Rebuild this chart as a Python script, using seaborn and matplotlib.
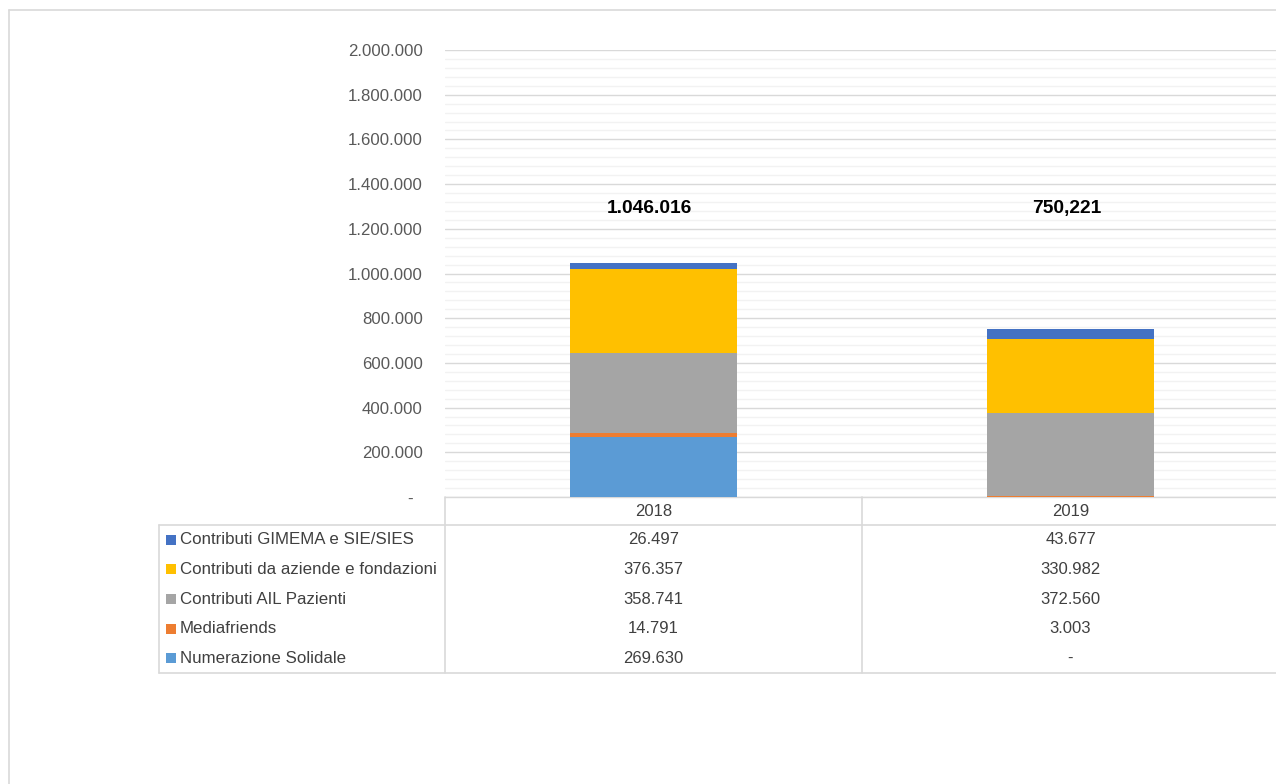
import matplotlib
matplotlib.use("Agg")
import matplotlib.pyplot as plt
import matplotlib.transforms as mtransforms
import numpy as np
import pandas as pd
import seaborn as sns

# dati
years = ["2018", "2019"]
series = [
    "Numerazione Solidale",
    "Mediafriends",
    "Contributi AIL Pazienti",
    "Contributi da aziende e fondazioni",
    "Contributi GIMEMA e SIE/SIES",
]
numerazione = [269630, 0]
mediafriends = [14791, 3003]
ail_pazienti = [358741, 372560]
aziende = [376357, 330982]
gimema = [26497, 43677]
total_labels = ["1.046.016", "750,221"]
colors = ["#5B9BD5", "#ED7D31", "#A5A5A5", "#FFC000", "#4472C4"]

sns.set_style("white")
plt.rcParams['font.family'] = ['Liberation Sans', 'DejaVu Sans']

W, H = 1276, 784
fig = plt.figure(figsize=(W / 100, H / 100), dpi=100)

# overlay in pixel coordinates for frame and table
ov = fig.add_axes([0, 0, 1, 1], zorder=0)
ov.set_xlim(0, W)
ov.set_ylim(H, 0)
ov.axis("off")
ov.patch.set_alpha(0)

ax_left, ax_bottom, ax_top = 445, 497, 50
cat_w = 417
ax = fig.add_axes([ax_left / W, (H - ax_bottom) / H, 2 * cat_w / W, (ax_bottom - ax_top) / H], zorder=1)
ax.patch.set_alpha(0)

values = [numerazione, mediafriends, ail_pazienti, aziende, gimema]
df = pd.DataFrame({name: vals for name, vals in zip(series, values)}, index=years)
cum = df.cumsum(axis=1)

# barre impilate: si disegna dall'alto verso il basso
for name, col in reversed(list(zip(series, colors))):
    sns.barplot(x=years, y=cum[name].values, color=col, width=0.4,
                saturation=1, linewidth=0, edgecolor="none", ax=ax, zorder=3)

ax.set_xlim(-0.5, 1.5)
ax.set_ylim(0, 2_000_000)
major = np.arange(0, 2_000_001, 200_000)
minor = np.arange(0, 2_000_001, 40_000)
ax.set_yticks(major)
ax.set_yticks(minor, minor=True)
ax.set_yticklabels(["-  "] + [f"{v:,}".replace(",", ".") for v in major[1:]])
ax.grid(axis="y", which="major", color="#D9D9D9", linewidth=1.0, zorder=0)
ax.grid(axis="y", which="minor", color="#F2F2F2", linewidth=1.0, zorder=0)
ax.set_axisbelow(True)
ax.tick_params(axis="y", which="both", length=0, pad=16, labelsize=12.1, labelcolor="#595959")
ax.set_xticks([])
ax.set_xlabel("")
ax.set_ylabel("")
for s in ["top", "right", "left"]:
    ax.spines[s].set_visible(False)
ax.spines["bottom"].set_color("#D9D9D9")
ax.spines["bottom"].set_linewidth(1.0)

for i, lab in enumerate(total_labels):
    ax.text(i - 0.009, 1_290_000, lab, ha="center", va="center", fontsize=13.8,
            fontweight="bold", color="black")

# cornice esterna
line_c = "#D9D9D9"
ov.plot([9, W + 5], [10, 10], color=line_c, lw=1.2)
ov.plot([9, 9], [10, H + 5], color=line_c, lw=1.2)

# tabella dati
tbl_left, hdr_top, hdr_bot, tbl_bot = 159, 497, 525, 673
col_edges = [445, 445 + cat_w, W + 5]
ov.plot([tbl_left, W + 5], [hdr_bot, hdr_bot], color=line_c, lw=1.2)
ov.plot([tbl_left, W + 5], [tbl_bot, tbl_bot], color=line_c, lw=1.2)
ov.plot([tbl_left, tbl_left], [hdr_bot, tbl_bot], color=line_c, lw=1.2)
for x in col_edges[:2]:
    ov.plot([x, x], [hdr_top, tbl_bot], color=line_c, lw=1.2)

blend = mtransforms.blended_transform_factory(ax.transData, ov.transData)
for i, yr in enumerate(years):
    ov.text(i, (hdr_top + hdr_bot) / 2, yr, transform=blend, ha="center",
            va="center", fontsize=12, color="#404040")

row_h = (tbl_bot - hdr_bot) / len(series)
for r, (name, col) in enumerate(reversed(list(zip(series, colors)))):
    yc = hdr_bot + row_h * (r + 0.5)
    ov.add_patch(plt.Rectangle((166, yc - 5), 10, 10, color=col, lw=0))
    ov.text(180, yc, name, ha="left", va="center", fontsize=12.2, color="#404040")
    for i in range(len(years)):
        v = df.loc[years[i], name]
        txt = "-" if v == 0 else f"{v:,}".replace(",", ".")
        ov.text(i, yc, txt, transform=blend, ha="center", va="center",
                fontsize=12, color="#404040")

fig.savefig("out.png", dpi=100)
